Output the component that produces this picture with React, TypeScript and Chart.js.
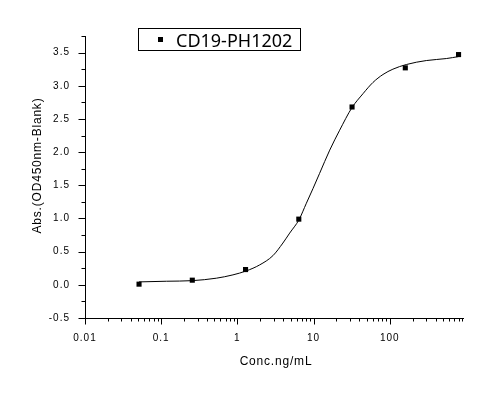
import React, { useEffect, useRef } from 'react';
import { Chart, registerables } from 'chart.js';

Chart.register(...registerables);

// ---- data ----
const seriesName = 'CD19-PH1202';
const concentrations = [0.0512, 0.256, 1.28, 6.4, 32, 160, 800];
const absorbances = [0.01, 0.07, 0.23, 0.99, 2.68, 3.27, 3.47];

// fitted curve
const fitConcentrations = [0.0512, 0.117, 0.256, 0.53, 0.875, 1.31, 1.96, 2.93, 3.96, 4.86, 6.43, 8.05, 9.82, 12.0, 16.3, 22.0, 31.9, 44.5, 60.2, 81.5, 110, 165, 302, 553, 800];
const fitAbsorbances = [0.044, 0.054, 0.063, 0.10, 0.15, 0.21, 0.30, 0.44, 0.63, 0.78, 0.98, 1.23, 1.45, 1.68, 2.03, 2.33, 2.67, 2.88, 3.05, 3.17, 3.25, 3.32, 3.38, 3.41, 3.44];

const xMajorTicks = [0.01, 0.1, 1, 10, 100];
const xTickLabels = ['0.01', '0.1', '1', '10', '100'];
const xMin = 0.01;
const xMax = 915;
const yMin = -0.5;
const yMax = 3.75;
const yStep = 0.25;

const xTitle = 'Conc.ng/mL';
const yTitle = 'Abs.(OD450nm-Blank)';

const TICK_FONT = '"Liberation Sans", Arial, sans-serif';

function buildLogTicks(): number[] {
  const out: number[] = [];
  for (let e = -2; e <= 2; e++) {
    for (let m = 1; m <= 9; m++) {
      const v = e < 0 ? m / Math.pow(10, -e) : m * Math.pow(10, e);
      if (v >= xMin && v <= xMax) out.push(v);
    }
  }
  return out;
}
const xTickValues = buildLogTicks();

const isXMajor = (v: number) => xMajorTicks.findIndex((m) => Math.abs(m - v) < m * 1e-6);
const isYMajor = (v: number) => Math.abs(v * 2 - Math.round(v * 2)) < 1e-6;

const decorPlugin = {
  id: 'decor',
  beforeDraw(chart: any) {
    chart.ctx.letterSpacing = '1px';
  },
  afterDraw(chart: any) {
    const ctx = chart.ctx as CanvasRenderingContext2D;
    const xs = chart.scales.x;
    const ys = chart.scales.y;
    const area = chart.chartArea;
    ctx.save();
    ctx.strokeStyle = '#000';
    ctx.lineWidth = 1;
    ctx.beginPath();
    const ax = Math.round(area.left) + 0.5;
    ys.ticks.forEach((t: any) => {
      const py = Math.round(ys.getPixelForValue(t.value)) + 0.5;
      const len = isYMajor(t.value) ? 7 : 4;
      ctx.moveTo(ax - len, py);
      ctx.lineTo(ax, py);
    });
    const ay = Math.round(area.bottom) + 0.5;
    xs.ticks.forEach((t: any) => {
      const px = Math.round(xs.getPixelForValue(t.value)) + 0.5;
      const len = isXMajor(t.value) >= 0 ? 6 : 3;
      ctx.moveTo(px, ay);
      ctx.lineTo(px, ay + len);
    });
    ctx.stroke();

    // axis titles
    ctx.fillStyle = '#000';
    ctx.font = '12px ' + TICK_FONT;
    (ctx as any).letterSpacing = '0.8px';
    ctx.textAlign = 'center';
    ctx.textBaseline = 'alphabetic';
    ctx.fillText(xTitle, (area.left + area.right) / 2 + 2, 364.5);

    ctx.save();
    ctx.translate(40.5, 165.5);
    ctx.rotate(-Math.PI / 2);
    ctx.fillText(yTitle, 0, 0);
    ctx.restore();

    // legend box
    (ctx as any).letterSpacing = '0px';
    ctx.strokeRect(138.5, 28.5, 162, 22);
    ctx.fillRect(158, 37, 5, 5);
    ctx.font = '18px "Noto Sans", sans-serif';
    ctx.textAlign = 'left';
    ctx.fillText(chart.data.datasets[0].label, 176, 46.5);
    ctx.restore();
    (ctx as any).letterSpacing = '0px';
  },
};

export default function App() {
  const canvasRef = useRef<HTMLCanvasElement | null>(null);

  useEffect(() => {
    document.body.style.margin = '0';
    document.body.style.background = '#fff';
    const canvas = canvasRef.current;
    if (!canvas) return;

    const chart = new Chart(canvas, {
      type: 'scatter',
      data: {
        datasets: [
          {
            label: seriesName,
            data: concentrations.map((x, i) => ({ x, y: absorbances[i] })),
            pointStyle: 'rect',
            pointRadius: 3.6,
            pointHoverRadius: 3.6,
            backgroundColor: '#000',
            borderColor: '#000',
            borderWidth: 0,
            showLine: false,
            order: 0,
          },
          {
            label: 'fit',
            data: fitConcentrations.map((x, i) => ({ x, y: fitAbsorbances[i] })),
            showLine: true,
            pointRadius: 0,
            pointHoverRadius: 0,
            borderColor: '#000',
            backgroundColor: '#000',
            borderWidth: 1,
            cubicInterpolationMode: 'monotone',
            fill: false,
            order: 1,
          },
        ],
      },
      options: {
        responsive: false,
        animation: false,
        events: [],
        layout: { padding: { top: 36, right: 29, left: 0, bottom: 0 } },
        plugins: {
          legend: { display: false },
          tooltip: { enabled: false },
          title: { display: false },
        },
        scales: {
          x: {
            type: 'logarithmic',
            position: 'bottom',
            min: xMin,
            max: xMax,
            afterFit: (s: any) => {
              s.height = 78;
            },
            afterBuildTicks: (s: any) => {
              s.ticks = xTickValues.map((v) => ({ value: v }));
            },
            grid: { display: false },
            border: { display: true, color: '#000', width: 1 },
            ticks: {
              autoSkip: false,
              maxRotation: 0,
              minRotation: 0,
              padding: 6,
              color: '#000',
              font: { family: TICK_FONT, size: 10 },
              callback: (v: any) => {
                const i = isXMajor(Number(v));
                return i >= 0 ? xTickLabels[i] : '';
              },
            },
          },
          y: {
            type: 'linear',
            min: yMin,
            max: yMax,
            afterFit: (s: any) => {
              s.width = 85;
            },
            grid: { display: false },
            border: { display: true, color: '#000', width: 1 },
            ticks: {
              stepSize: yStep,
              autoSkip: false,
              padding: 7,
              color: '#000',
              font: { family: TICK_FONT, size: 10 },
              callback: (v: any) => (isYMajor(Number(v)) ? Number(v).toFixed(1) : ''),
            },
          },
        },
      } as any,
      plugins: [decorPlugin],
    });

    return () => chart.destroy();
  }, []);

  return (
    <div style={{ width: 492, height: 396, position: 'relative', background: '#fff' }}>
      <canvas ref={canvasRef} width={492} height={396} style={{ display: 'block' }} />
    </div>
  );
}
